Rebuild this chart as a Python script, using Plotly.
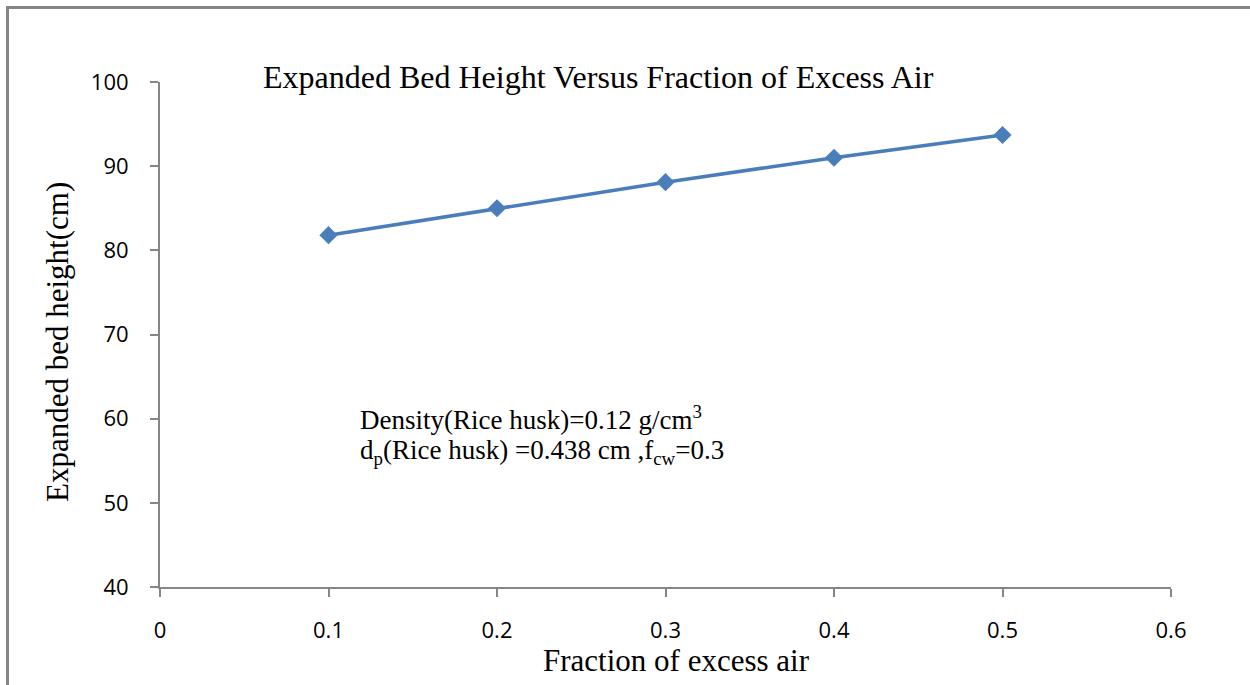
import plotly.graph_objects as go

# Expanded bed height against fraction of excess air
excess_air = [0.1, 0.2, 0.3, 0.4, 0.5]
bed_height = [81.8, 85.0, 88.1, 91.0, 93.7]

x_ticks = [0, 0.1, 0.2, 0.3, 0.4, 0.5, 0.6]
x_tick_text = ["0", "0.1", "0.2", "0.3", "0.4", "0.5", "0.6"]
y_ticks = [40, 50, 60, 70, 80, 90, 100]

W, H = 1250, 685
L, R, T, B = 160, 79, 82, 98
PW, PH = W - L - R, H - T - B


def px(x):
    return (x - L) / PW


def py(y):
    return (H - B - y) / PH


axis_grey = "#868686"
serif = "Liberation Serif, Times New Roman, serif"
sans = "Open Sans, Carlito, Calibri, sans-serif"

fig = go.Figure()
fig.add_trace(go.Scatter(
    x=excess_air, y=bed_height, mode="lines+markers",
    line=dict(color="#4a7ebb", width=3.5),
    marker=dict(symbol="diamond", size=14, color="#4a7ebb"),
    showlegend=False,
))

fig.update_layout(
    width=W, height=H,
    margin=dict(l=L, r=R, t=T, b=B),
    paper_bgcolor="white", plot_bgcolor="white",
    xaxis=dict(
        range=[0, 0.6], tickvals=x_ticks, ticktext=x_tick_text,
        showgrid=False, zeroline=False, showline=True,
        linecolor=axis_grey, linewidth=2,
        ticks="outside", ticklen=8, tickwidth=2, tickcolor=axis_grey,
        tickfont=dict(family=sans, size=22, color="black"),
        ticklabelstandoff=15,
    ),
    yaxis=dict(
        range=[40, 100], tickvals=y_ticks,
        showgrid=False, zeroline=False, showline=True,
        linecolor=axis_grey, linewidth=2,
        ticks="outside", ticklen=8, tickwidth=2, tickcolor=axis_grey,
        tickfont=dict(family=sans, size=22, color="black"),
        ticklabelstandoff=17,
    ),
    shapes=[
        dict(type="line", xref="paper", yref="paper",
             x0=px(6), x1=px(W), y0=py(7.5), y1=py(7.5),
             line=dict(color=axis_grey, width=3)),
        dict(type="line", xref="paper", yref="paper",
             x0=px(7.5), x1=px(7.5), y0=py(6), y1=py(H),
             line=dict(color=axis_grey, width=3)),
    ],
    annotations=[
        dict(text="Expanded Bed Height Versus Fraction of Excess Air",
             xref="paper", yref="paper", x=px(598), y=py(77),
             xanchor="center", yanchor="middle", showarrow=False,
             font=dict(family=serif, size=32, color="black")),
        dict(text="Fraction of excess air",
             xref="paper", yref="paper", x=px(676), y=py(660),
             xanchor="center", yanchor="middle", showarrow=False,
             font=dict(family=serif, size=31, color="black")),
        dict(text="Expanded bed height(cm)", textangle=-90,
             xref="paper", yref="paper", x=px(57), y=py(342),
             xanchor="center", yanchor="middle", showarrow=False,
             font=dict(family=serif, size=31, color="black")),
        dict(text="Density(Rice husk)=0.12 g/cm<sup>3</sup>",
             xref="paper", yref="paper", x=px(358), y=py(418),
             xanchor="left", yanchor="middle", align="left", showarrow=False,
             font=dict(family=serif, size=27, color="black")),
        dict(text="d<sub>p</sub>(Rice husk) =0.438 cm ,f<sub>cw</sub>=0.3",
             xref="paper", yref="paper", x=px(358), y=py(452),
             xanchor="left", yanchor="middle", align="left", showarrow=False,
             font=dict(family=serif, size=27, color="black")),
    ],
)

fig.write_html("out.html")
